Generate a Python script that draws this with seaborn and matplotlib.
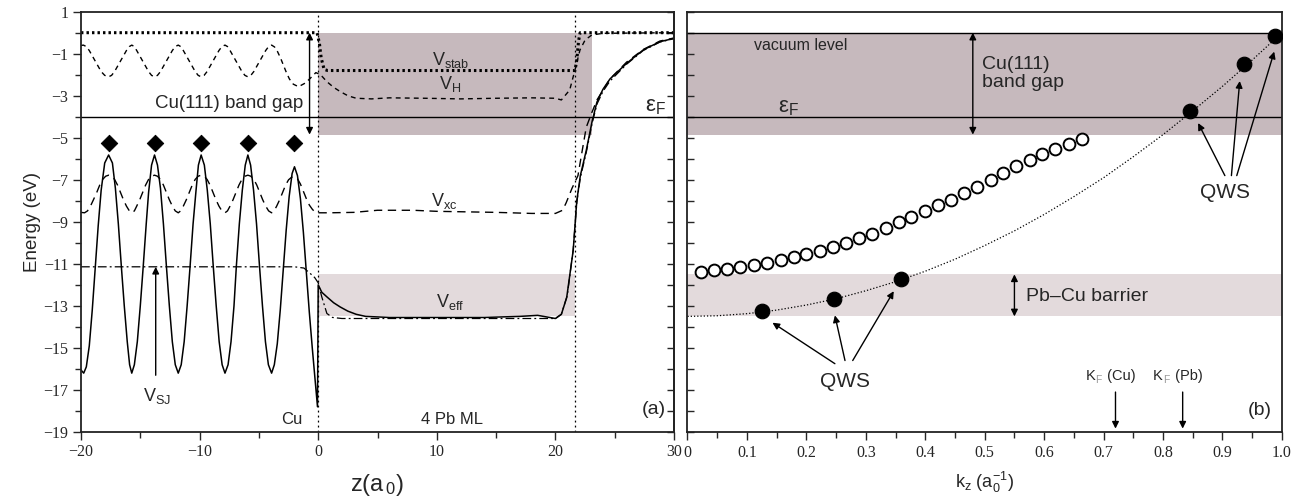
import matplotlib
matplotlib.use("Agg")
import matplotlib.pyplot as plt
import seaborn as sns
from matplotlib.ticker import MultipleLocator
from matplotlib.offsetbox import TextArea, HPacker, AnnotationBbox

sns.set_style("ticks")
plt.rcParams["font.family"] = ["Liberation Sans", "DejaVu Sans"]
plt.rcParams["mathtext.default"] = "regular"

# ----------------------------------------------------------------------
# panel (a): potentials along z (a0), energies in eV
# ----------------------------------------------------------------------
z_eff = [-20.0, -19.77, -19.55, -19.3, -19.05, -18.8, -18.55, -18.3, -18.0, -17.67,
         -17.35, -17.1, -16.85, -16.6, -16.35, -16.1, -15.9, -15.72,
         -15.5, -15.25, -15.0, -14.75, -14.5, -14.3, -14.05, -13.8,
         -13.55, -13.3, -13.05, -12.8, -12.55, -12.3, -12.05, -11.8,
         -11.55, -11.3, -11.05, -10.8, -10.55, -10.3, -10.1, -9.87,
         -9.6, -9.35, -9.1, -8.85, -8.6, -8.35, -8.1, -7.86,
         -7.6, -7.35, -7.1, -6.9, -6.65, -6.4, -6.15, -5.93,
         -5.7, -5.45, -5.2, -4.95, -4.7, -4.45, -4.2, -3.93,
         -3.7, -3.45, -3.2, -2.95, -2.7, -2.45, -2.2, -2.0,
         -1.75, -1.5, -1.25, -1.0, -0.75, -0.5, -0.25, -0.06,
         0.0, 0.3, 0.73, 1.3, 1.85, 2.5, 3.2, 4.0, 6.0, 10.0,
         14.0, 17.0, 18.5, 19.5, 20.0, 20.5,
         20.95, 21.5, 21.8, 22.1, 22.6, 23.1, 23.5, 24.0, 24.6, 26.0,
         27.4, 28.8, 30.0]
e_eff = [-16.05, -16.2, -15.9, -14.9, -13.2, -11.2, -9.2, -7.5, -6.2, -5.82,
         -6.2, -7.4, -9.1, -11.1, -13.0, -14.7, -15.8, -16.2,
         -15.8, -14.7, -13.0, -11.1, -9.1, -7.6, -6.3, -5.82,
         -6.3, -7.4, -9.1, -11.1, -13.0, -14.7, -15.8, -16.2,
         -15.8, -14.7, -13.0, -11.1, -9.1, -7.5, -6.3, -5.82,
         -6.3, -7.5, -9.1, -11.1, -13.0, -14.7, -15.8, -16.2,
         -15.8, -14.7, -13.0, -11.1, -9.1, -7.5, -6.3, -5.82,
         -6.3, -7.5, -9.1, -11.1, -13.0, -14.7, -15.8, -16.2,
         -15.8, -14.8, -13.2, -11.3, -9.4, -7.8, -6.7, -6.38,
         -6.8, -7.9, -9.5, -11.4, -13.3, -15.0, -16.6, -17.8,
         -12.0, -12.35, -12.57, -12.85, -13.05, -13.25, -13.4, -13.5, -13.55, -13.55,
         -13.55, -13.5, -13.45, -13.55, -13.6, -13.4,
         -12.6, -10.35, -8.0, -6.8, -5.6, -4.2, -3.3, -2.7, -2.2, -1.46,
         -0.82, -0.43, -0.27]

z_xc = [-20.0, -19.7, -19.45, -19.2, -18.95, -18.67, -18.42, -18.17, -17.92, -17.67,
        -17.42, -17.17, -16.92, -16.67, -16.42, -16.17, -15.92, -15.72,
        -15.5, -15.3, -15.05, -14.8, -14.55, -14.3, -14.05, -13.8,
        -13.55, -13.3, -13.05, -12.8, -12.55, -12.3, -12.05, -11.8,
        -11.6, -11.37, -11.12, -10.87, -10.62, -10.37, -10.12, -9.87,
        -9.62, -9.37, -9.12, -8.87, -8.62, -8.37, -8.12, -7.86,
        -7.65, -7.43, -7.18, -6.93, -6.68, -6.43, -6.18, -5.93,
        -5.68, -5.43, -5.18, -4.93, -4.68, -4.43, -4.18, -3.93,
        -3.72, -3.5, -3.25, -3.0, -2.75, -2.5, -2.25, -2.0,
        -1.75, -1.5, -1.25, -1.0, -0.75, -0.5, -0.25, 0.0,
        1.0, 3.0, 5.0, 8.0, 10.0, 15.0, 18.0, 19.5, 20.0, 20.6,
        20.9, 21.4, 21.9, 22.2, 22.6, 23.0, 23.5, 24.6, 26.0, 27.4,
        28.8, 30.0]
e_xc = [-8.55, -8.57, -8.48, -8.25, -7.95, -7.6, -7.25, -6.98, -6.83, -6.78,
        -6.83, -6.98, -7.25, -7.6, -7.95, -8.25, -8.48, -8.57,
        -8.48, -8.25, -7.95, -7.6, -7.25, -6.98, -6.83, -6.78,
        -6.83, -6.98, -7.25, -7.6, -7.95, -8.25, -8.48, -8.57,
        -8.48, -8.25, -7.95, -7.6, -7.25, -6.98, -6.83, -6.78,
        -6.83, -6.98, -7.25, -7.6, -7.95, -8.25, -8.48, -8.57,
        -8.48, -8.25, -7.95, -7.6, -7.25, -6.98, -6.83, -6.78,
        -6.83, -6.98, -7.25, -7.6, -7.95, -8.25, -8.48, -8.57,
        -8.48, -8.25, -7.95, -7.6, -7.25, -7.0, -6.88, -6.85,
        -6.95, -7.2, -7.55, -7.9, -8.2, -8.4, -8.55, -8.57,
        -8.57, -8.55, -8.45, -8.45, -8.5, -8.55, -8.6, -8.6, -8.6, -8.45,
        -8.1, -7.4, -6.8, -5.8, -4.5, -3.9, -3.2, -2.2, -1.4, -0.8,
        -0.4, -0.25]

z_h = [-20.0, -19.8, -19.55, -19.3, -19.05, -18.8, -18.55, -18.3, -18.0, -17.67,
       -17.42, -17.17, -16.92, -16.67, -16.42, -16.17, -15.92, -15.72,
       -15.5, -15.3, -15.05, -14.8, -14.55, -14.3, -14.05, -13.8,
       -13.55, -13.3, -13.05, -12.8, -12.55, -12.3, -12.05, -11.8,
       -11.6, -11.37, -11.12, -10.87, -10.62, -10.37, -10.12, -9.87,
       -9.62, -9.37, -9.12, -8.87, -8.62, -8.37, -8.12, -7.86,
       -7.65, -7.43, -7.18, -6.93, -6.68, -6.43, -6.18, -5.93,
       -5.68, -5.43, -5.18, -4.93, -4.68, -4.43, -4.18, -3.93,
       -3.68, -3.43, -3.18, -2.93, -2.68, -2.43, -2.1, -1.66,
       -1.1, -0.67, -0.2, 0.2, 0.73, 1.3, 1.85, 2.5, 3.2, 4.5,
       6.0, 9.0, 12.0, 15.0, 18.0, 20.0, 20.5, 21.2, 21.65, 22.07,
       22.5, 23.06, 24.0, 30.0]
e_h = [-0.61, -0.59, -0.66, -0.85, -1.1, -1.35, -1.6, -1.85, -2.03, -2.1,
       -2.03, -1.85, -1.6, -1.35, -1.1, -0.85, -0.66, -0.59,
       -0.66, -0.85, -1.1, -1.35, -1.6, -1.85, -2.03, -2.1,
       -2.03, -1.85, -1.6, -1.35, -1.1, -0.85, -0.66, -0.59,
       -0.66, -0.85, -1.1, -1.35, -1.6, -1.85, -2.03, -2.1,
       -2.03, -1.85, -1.6, -1.35, -1.1, -0.85, -0.66, -0.59,
       -0.66, -0.85, -1.1, -1.35, -1.6, -1.85, -2.03, -2.1,
       -2.03, -1.85, -1.6, -1.35, -1.1, -0.85, -0.66, -0.59,
       -0.68, -0.9, -1.2, -1.55, -1.9, -2.2, -2.45, -2.57,
       -2.4, -2.17, -1.9, -2.0, -2.33, -2.6, -2.8, -3.0, -3.12, -3.15,
       -3.1, -3.12, -3.15, -3.12, -3.1, -3.12, -3.2, -2.73, -1.77, -0.82,
       -0.35, -0.11, -0.03, 0.0]

z_stab = [-20.0, -0.1, 0.1, 0.25, 0.5, 0.8, 21.2, 21.65, 21.8, 21.95, 22.08, 30.0]
e_stab = [0.0, 0.0, -0.5, -1.2, -1.75, -1.8, -1.8, -1.8, -1.3, -0.4, 0.0, 0.0]

z_sj = [-20.0, -2.0, -1.2, -0.67, -0.3, 0.0, 0.3, 0.73, 1.2, 2.0,
        4.0, 10.0, 15.0, 19.5, 20.0, 20.5, 21.0, 21.5, 21.8, 22.1,
        22.6, 23.1, 23.5, 24.0, 24.6, 26.0, 27.4, 28.8, 30.0]
e_sj = [-11.14, -11.14, -11.2, -11.46, -11.65, -11.9, -12.57, -13.36, -13.55, -13.6,
        -13.6, -13.6, -13.6, -13.6, -13.6, -13.4, -12.5, -10.3, -8.1, -6.9,
        -5.7, -4.3, -3.4, -2.8, -2.3, -1.5, -0.85, -0.45, -0.28]

atom_z = [-17.67, -13.8, -9.87, -5.93, -2.0]
atom_e = [-5.24, -5.24, -5.24, -5.24, -5.24]

# ----------------------------------------------------------------------
# panel (b): dispersion along k_z (1/a0)
# ----------------------------------------------------------------------
k_open = [0.023, 0.045, 0.067, 0.089, 0.112, 0.134, 0.157, 0.179, 0.2, 0.223,
          0.245, 0.267, 0.289, 0.311, 0.334, 0.355, 0.376, 0.399, 0.421, 0.443,
          0.465, 0.487, 0.51, 0.531, 0.553, 0.576, 0.597, 0.619, 0.641, 0.664]
e_open = [-11.38, -11.31, -11.24, -11.15, -11.06, -10.96, -10.84, -10.69, -10.53, -10.37,
          -10.19, -10.0, -9.79, -9.56, -9.3, -9.03, -8.75, -8.47, -8.22, -7.95,
          -7.65, -7.33, -7.0, -6.68, -6.36, -6.06, -5.78, -5.52, -5.28, -5.05]

k_fit = [0.0, 0.05, 0.1, 0.15, 0.2, 0.25, 0.3, 0.35, 0.4, 0.45,
         0.5, 0.55, 0.6, 0.65, 0.7, 0.75, 0.8, 0.85, 0.9, 0.95, 1.0]
e_fit = [-13.5, -13.47, -13.37, -13.2, -12.96, -12.66, -12.28, -11.85, -11.35, -10.78,
         -10.13, -9.43, -8.65, -7.8, -6.9, -5.9, -4.85, -3.72, -2.55, -1.3, 0.0]

k_qws = [0.126, 0.247, 0.359, 0.845, 0.937, 0.989]
e_qws = [-13.26, -12.67, -11.74, -3.71, -1.5, -0.14]

kf_labels = ["(Cu)", "(Pb)"]
kf_pos = [0.72, 0.833]

E_FERMI = -4.0
E_VAC = 0.0
GAP_BOTTOM = -4.85
BARRIER = (-11.5, -13.5)

SHADE_DARK = "#c6b9bd"
SHADE_LIGHT = "#e3dadc"
TICK_FONT = {"family": ["Liberation Serif", "DejaVu Serif"], "size": 11.5}

fig = plt.figure(figsize=(13.02, 4.99), dpi=100)
ax_a = fig.add_axes([0.0622, 0.1343, 0.4555, 0.8423])
ax_b = fig.add_axes([0.528, 0.1343, 0.4566, 0.8423])

# --------------------------- panel (a) --------------------------------
ax_a.fill_between([0, 23.05], GAP_BOTTOM, E_VAC, color=SHADE_DARK, lw=0, zorder=0)
ax_a.fill_between([0, 21.65], BARRIER[1], BARRIER[0], color=SHADE_LIGHT, lw=0, zorder=0)
ax_a.axhline(E_FERMI, color="k", lw=1.0)
for zl in (0.0, 21.65):
    ax_a.axvline(zl, color="k", lw=0.9, ls=(0, (1.5, 2.5)))

sns.lineplot(x=z_sj, y=e_sj, ax=ax_a, color="k", lw=0.9, sort=False,
             estimator=None, linestyle=(0, (7, 2.5, 1.5, 2.5)))
sns.lineplot(x=z_xc, y=e_xc, ax=ax_a, color="k", lw=1.0, sort=False,
             estimator=None, linestyle=(0, (6, 4)))
sns.lineplot(x=z_h, y=e_h, ax=ax_a, color="k", lw=1.0, sort=False,
             estimator=None, linestyle=(0, (3.5, 3)))
sns.lineplot(x=z_stab, y=e_stab, ax=ax_a, color="k", lw=2.2, sort=False,
             estimator=None, linestyle=(0, (0.8, 1.0)))
sns.lineplot(x=z_eff, y=e_eff, ax=ax_a, color="k", lw=1.1, sort=False,
             estimator=None)
sns.scatterplot(x=atom_z, y=atom_e, ax=ax_a, marker="D", s=70, color="k",
                edgecolor="k", zorder=5)

arrow2 = dict(arrowstyle="<|-|>", color="k", lw=1.0, mutation_scale=10,
              shrinkA=0, shrinkB=0)
arrow1 = dict(arrowstyle="-|>", color="k", lw=1.0, mutation_scale=10,
              shrinkA=0, shrinkB=0)
ax_a.annotate("", xy=(-0.73, E_VAC), xytext=(-0.73, GAP_BOTTOM), arrowprops=arrow2)
ax_a.annotate("", xy=(-13.7, -11.14), xytext=(-13.7, -16.3), arrowprops=arrow1)

ax_a.text(-7.5, -3.35, "Cu(111) band gap", ha="center", va="center", fontsize=13.5)
ax_a.text(11.2, -1.3, "V$_{stab}$", ha="center", va="center", fontsize=13)
ax_a.text(11.1, -2.45, "V$_{H}$", ha="center", va="center", fontsize=13)
ax_a.text(10.6, -8.0, "V$_{xc}$", ha="center", va="center", fontsize=13)
ax_a.text(11.1, -12.8, "V$_{eff}$", ha="center", va="center", fontsize=13)
ax_a.text(-13.6, -17.3, "V$_{SJ}$", ha="center", va="center", fontsize=13)
ax_a.text(28.4, -3.5, "ε$_F$", ha="center", va="center", fontsize=16)
ax_a.text(-2.2, -18.4, "Cu", ha="center", va="center", fontsize=12)
ax_a.text(11.3, -18.4, "4 Pb ML", ha="center", va="center", fontsize=12)
ax_a.text(28.3, -17.95, "(a)", ha="center", va="center", fontsize=14)

ax_a.set_xlim(-20, 30)
ax_a.set_ylim(-19, 1)
ax_a.set_xticks([-20, -10, 0, 10, 20, 30])
ax_a.set_xticklabels(["\u221220", "\u221210", "0", "10", "20", "30"], fontdict=TICK_FONT)
ax_a.xaxis.set_minor_locator(MultipleLocator(5))
ax_a.set_yticks(list(range(1, -20, -2)))
ax_a.set_yticklabels([str(v).replace("-", "\u2212") for v in range(1, -20, -2)],
                     fontdict=TICK_FONT)
ax_a.yaxis.set_minor_locator(MultipleLocator(1))
ax_a.tick_params(which="major", length=6, width=1.0, direction="out", pad=3)
ax_a.tick_params(which="minor", length=4, width=1.0, direction="out")
sec = ax_a.secondary_yaxis("right")
sec.set_yticks(list(range(1, -20, -1)))
sec.set_yticklabels([])
sec.tick_params(direction="in", length=5, width=1.0)
ax_a.set_xlabel("z(a$_{\\,0}$)", fontsize=17, labelpad=8)
ax_a.set_ylabel("Energy (eV)", fontsize=13.5, labelpad=2)

# --------------------------- panel (b) --------------------------------
ax_b.fill_between([0, 1], GAP_BOTTOM, E_VAC, color=SHADE_DARK, lw=0, zorder=0)
ax_b.fill_between([0, 1], BARRIER[1], BARRIER[0], color=SHADE_LIGHT, lw=0, zorder=0)
ax_b.axhline(E_FERMI, color="k", lw=1.0)
ax_b.axhline(E_VAC, color="k", lw=1.0)

sns.lineplot(x=k_fit, y=e_fit, ax=ax_b, color="k", lw=0.9, sort=False,
             estimator=None, linestyle=(0, (1, 1.6)))
ax_b.plot(k_open, e_open, ls="none", marker="o", ms=8.5, mfc="white",
          mec="k", mew=1.4, zorder=4)
sns.scatterplot(x=k_qws, y=e_qws, ax=ax_b, s=110, color="k", edgecolor="k",
                zorder=5)

ax_b.annotate("", xy=(0.48, E_VAC), xytext=(0.48, GAP_BOTTOM), arrowprops=arrow2)
ax_b.annotate("", xy=(0.55, BARRIER[0]), xytext=(0.55, BARRIER[1]), arrowprops=arrow2)

qws_low = [((0.143, -13.8), (0.248, -15.75)), ((0.248, -13.45), (0.265, -15.6)),
           ((0.347, -12.3), (0.278, -15.6))]
for head, tail in qws_low:
    ax_b.annotate("", xy=head, xytext=tail, arrowprops=arrow1)
qws_high = [((0.859, -4.3), (0.904, -6.8)), ((0.929, -2.3), (0.915, -6.8)),
            ((0.987, -0.9), (0.924, -6.8))]
for head, tail in qws_high:
    ax_b.annotate("", xy=head, xytext=tail, arrowprops=arrow1)

# Fermi wave-vector markers: "K" with a grey subscript F
for kf, lab in zip(kf_pos, kf_labels):
    ax_b.annotate("", xy=(kf, -18.84), xytext=(kf, -17.1), arrowprops=arrow1)
    parts = HPacker(children=[TextArea("K", textprops=dict(size=10.5)),
                              TextArea("$_F$", textprops=dict(size=10.5, color="0.6")),
                              TextArea(" " + lab, textprops=dict(size=10.5))],
                    align="baseline", pad=0, sep=0)
    ax_b.add_artist(AnnotationBbox(parts, (kf - 0.008, -16.4), frameon=False,
                                   box_alignment=(0.5, 0.5)))

ax_b.text(0.265, -16.6, "QWS", ha="center", va="center", fontsize=15)
ax_b.text(0.904, -7.62, "QWS", ha="center", va="center", fontsize=15)
ax_b.text(0.112, -0.62, "vacuum level", ha="left", va="center", fontsize=11.5)
ax_b.text(0.495, -1.95, "Cu(111)\nband gap", ha="left", va="center",
          fontsize=14, linespacing=1.1)
ax_b.text(0.17, -3.55, "ε$_F$", ha="center", va="center", fontsize=16)
ax_b.text(0.57, -12.55, "Pb\u2013Cu barrier", ha="left", va="center", fontsize=14)
ax_b.text(0.963, -18.0, "(b)", ha="center", va="center", fontsize=14)

ax_b.set_xlim(0, 1)
ax_b.set_ylim(-19, 1)
ax_b.set_xticks([i / 10 for i in range(11)])
ax_b.set_xticklabels(["0", "0.1", "0.2", "0.3", "0.4", "0.5", "0.6", "0.7",
                      "0.8", "0.9", "1.0"], fontdict=TICK_FONT)
ax_b.xaxis.set_minor_locator(MultipleLocator(0.05))
ax_b.set_yticks(list(range(1, -20, -1)))
ax_b.set_yticklabels([])
ax_b.tick_params(axis="x", which="major", length=6, width=1.0, direction="out")
ax_b.tick_params(axis="x", which="minor", length=4, width=1.0, direction="out")
ax_b.tick_params(axis="y", length=5, width=1.0, direction="in")
ax_b.set_xlabel("k$_z$ (a$_0^{-1}$)", fontsize=13, labelpad=6)

for ax in (ax_a, ax_b):
    for sp in ax.spines.values():
        sp.set_linewidth(1.3)
        sp.set_color("#222222")
        sp.set_visible(True)
sec.spines["right"].set_linewidth(1.3)

fig.savefig("out.png", dpi=100)
